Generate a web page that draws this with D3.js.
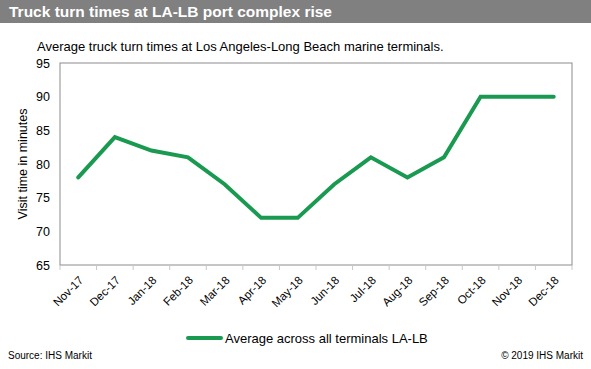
<!DOCTYPE html>
<html><head><meta charset="utf-8">
<script src="https://cdn.jsdelivr.net/npm/d3@7"></script>
<style>body{margin:0;background:#fff;font-family:"Liberation Sans",Arial,sans-serif;}</style>
</head><body><svg id="c" width="591" height="369"></svg>
<script>
const categories = ["Nov-17","Dec-17","Jan-18","Feb-18","Mar-18","Apr-18","May-18","Jun-18","Jul-18","Aug-18","Sep-18","Oct-18","Nov-18","Dec-18"];
const values = [78,84,82,81,77,72,72,77,81,78,81,90,90,90];
const yTicks = [65,70,75,80,85,90,95];
const seriesName = "Average across all terminals LA-LB";

const svg = d3.select("#c");
const W=591,H=369;
svg.append("rect").attr("x",0).attr("y",0).attr("width",W).attr("height",23).attr("fill","#808080");
svg.append("text").attr("x",9).attr("y",17).attr("fill","#fff").attr("font-weight","bold").attr("font-size",15.5).text("Truck turn times at LA-LB port complex rise");
svg.append("text").attr("x",37).attr("y",51).attr("fill","#000").attr("font-size",13).text("Average truck turn times at Los Angeles-Long Beach marine terminals.");

const L=60,R=572,T=63,B=265;
const x = d3.scaleBand().domain(categories).range([L,R]);
const y = d3.scaleLinear().domain([65,95]).range([B,T]);

svg.append("rect").attr("x",L).attr("y",T).attr("width",R-L).attr("height",B-T).attr("fill","none").attr("stroke","#8c8c8c").attr("stroke-width",1);

const yAxis = d3.axisLeft(y).tickValues(yTicks).tickSize(0).tickPadding(10);
const gy = svg.append("g").attr("transform",`translate(${L},0)`).call(yAxis);
gy.select(".domain").remove();
gy.selectAll("text").attr("font-size",12.5).attr("font-family","Liberation Sans, Arial").attr("fill","#000");

const xAxis = d3.axisBottom(x).tickSize(0).tickPadding(0);
const gx = svg.append("g").attr("transform",`translate(0,${B})`).call(xAxis);
gx.select(".domain").remove();
gx.selectAll("text").attr("font-size",11.5).attr("font-family","Liberation Sans, Arial").attr("fill","#000")
  .attr("text-anchor","end").attr("x",0).attr("y",0).attr("dy","0.35em").attr("transform","translate(3,13) rotate(-45)");
// boundary tick marks
const bounds = categories.map(c=>x(c)).concat([R]);
svg.append("g").selectAll("line").data(bounds).join("line")
  .attr("x1",d=>d).attr("x2",d=>d).attr("y1",B).attr("y2",B+5).attr("stroke","#c8c8c8");

svg.append("text").attr("transform",`translate(27,${(T+B)/2}) rotate(-90)`).attr("text-anchor","middle")
  .attr("font-size",12.5).text("Visit time in minutes");

const line = d3.line().x((d,i)=>x(categories[i])+x.bandwidth()/2).y(d=>y(d));
svg.append("path").datum(values).attr("d",line).attr("fill","none").attr("stroke","#1a9a50").attr("stroke-width",4).attr("stroke-linejoin","miter").attr("stroke-linecap","round");

svg.append("line").attr("x1",188).attr("x2",221).attr("y1",338).attr("y2",338).attr("stroke","#1a9a50").attr("stroke-width",4).attr("stroke-linecap","round");
svg.append("text").attr("x",225).attr("y",343).attr("font-size",13).text(seriesName);

svg.append("text").attr("x",8).attr("y",359).attr("font-size",10).text("Source: IHS Markit");
svg.append("text").attr("x",583).attr("y",359).attr("font-size",10).attr("text-anchor","end").text("© 2019 IHS Markit");
</script></body></html>
